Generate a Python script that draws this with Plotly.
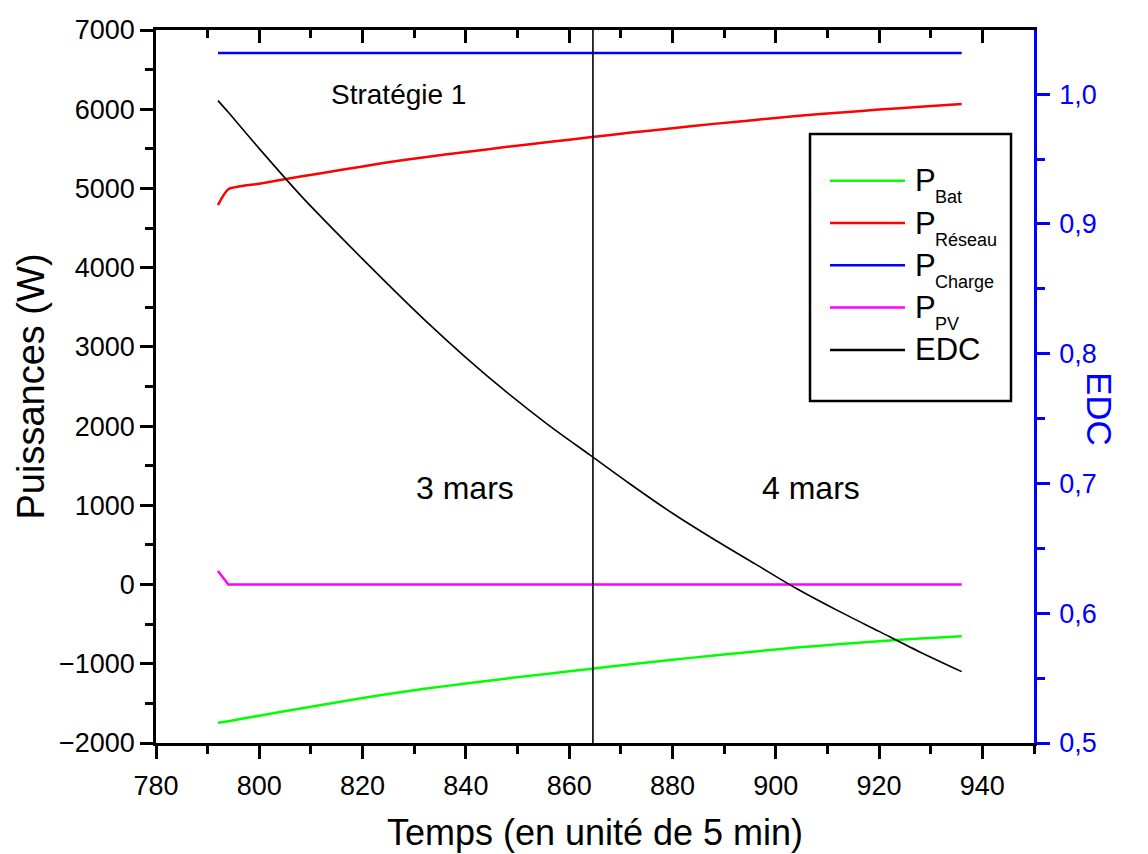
import plotly.graph_objects as go

# ---------------- data ----------------
temps = [792, 794, 800, 808, 816, 824, 832, 840, 848, 856,
         864, 872, 880, 888, 896, 904, 912, 920, 928, 936]
p_bat = [-1744, -1725, -1655, -1565, -1475, -1390, -1315, -1250, -1185, -1125,
         -1065, -1005, -950, -895, -845, -795, -755, -715, -680, -652]
p_reseau = [4790, 4990, 5060, 5150, 5235, 5320, 5395, 5460, 5525, 5585,
            5645, 5705, 5760, 5815, 5865, 5915, 5955, 5995, 6030, 6065]
p_charge = [6710, 6710, 6710, 6710, 6710, 6710, 6710, 6710, 6710, 6710,
            6710, 6710, 6710, 6710, 6710, 6710, 6710, 6710, 6710, 6710]
p_pv = [170, 0, 0, 0, 0, 0, 0, 0, 0, 0,
        0, 0, 0, 0, 0, 0, 0, 0, 0, 0]
edc = [0.995, 0.986, 0.958, 0.922, 0.889, 0.857, 0.826, 0.797, 0.770, 0.745,
       0.722, 0.699, 0.677, 0.657, 0.638, 0.619, 0.602, 0.586, 0.570, 0.555]
day_boundary = 864.6

legend_main = ["P", "P", "P", "P", "EDC"]
legend_sub = ["Bat", "Réseau", "Charge", "PV", ""]
colors = ["#00ff00", "#ff0000", "#0000ff", "#ff00ff", "#000000"]

FONT = "Arial, Liberation Sans, sans-serif"
W, H = 1148, 854
ML, MR, MT, MB = 156, 114, 30, 111
PW, PH = W - ML - MR, H - MT - MB


def px(xp):
    return (xp - ML) / PW


def py(yp):
    return (H - MB - yp) / PH


fig = go.Figure()

fig.add_trace(go.Scatter(x=temps, y=p_bat, mode="lines", name="P_Bat",
                         line=dict(color=colors[0], width=2.5, shape="spline", smoothing=0.6)))
fig.add_trace(go.Scatter(x=temps, y=p_reseau, mode="lines", name="P_Réseau",
                         line=dict(color=colors[1], width=2.5, shape="spline", smoothing=0.6)))
fig.add_trace(go.Scatter(x=temps, y=p_charge, mode="lines", name="P_Charge",
                         xaxis="x2", line=dict(color=colors[2], width=2.5)))
fig.add_trace(go.Scatter(x=temps, y=p_pv, mode="lines", name="P_PV",
                         line=dict(color=colors[3], width=2.5)))
fig.add_trace(go.Scatter(x=temps, y=edc, mode="lines", name="EDC", yaxis="y2",
                         line=dict(color=colors[4], width=1.6, shape="spline", smoothing=0.8)))

tickfont = dict(family=FONT, size=27, color="black")

fig.update_layout(
    width=W, height=H,
    margin=dict(l=ML, r=MR, t=MT, b=MB, autoexpand=False),
    paper_bgcolor="white", plot_bgcolor="white",
    showlegend=False,
    separators=", ",
    font=dict(family=FONT, color="black"),
    xaxis=dict(
        range=[780, 950], tick0=780, dtick=20, automargin=False,
        ticks="outside", ticklen=13, tickwidth=2.5, tickcolor="black",
        minor=dict(dtick=10, ticks="outside", ticklen=8, tickwidth=2.5, tickcolor="black"),
        showline=True, linewidth=2.5, linecolor="black",
        showgrid=False, zeroline=False,
        tickfont=tickfont, ticklabelstandoff=4,
        title=dict(text="Temps (en unité de 5 min)", font=dict(family=FONT, size=36), standoff=20),
    ),
    xaxis2=dict(
        overlaying="x", side="top", matches="x", automargin=False,
        range=[780, 950], tick0=780, dtick=20,
        ticks="inside", ticklen=13, tickwidth=2.5, tickcolor="black",
        minor=dict(dtick=10, ticks="inside", ticklen=8, tickwidth=2.5, tickcolor="black"),
        showline=True, linewidth=2.5, linecolor="black",
        showgrid=False, zeroline=False, showticklabels=False,
    ),
    yaxis=dict(
        range=[-2000, 7000], tick0=0, dtick=1000, automargin=False,
        ticks="outside", ticklen=13, tickwidth=2.5, tickcolor="black",
        minor=dict(dtick=500, ticks="outside", ticklen=8, tickwidth=2.5, tickcolor="black"),
        showline=True, linewidth=2.5, linecolor="black",
        showgrid=False, zeroline=False,
        tickfont=tickfont, ticklabelstandoff=0,
        title=dict(text="Puissances (W)", font=dict(family=FONT, size=38), standoff=3),
    ),
    yaxis2=dict(
        overlaying="y", side="right", automargin=False,
        range=[0.5, 1.0494], tick0=0.5, dtick=0.1, tickformat=".1f",
        ticks="outside", ticklen=13, tickwidth=2.5, tickcolor="#0000ff",
        minor=dict(dtick=0.05, ticks="outside", ticklen=8, tickwidth=2.5, tickcolor="#0000ff"),
        showline=True, linewidth=2.5, linecolor="#0000ff",
        showgrid=False, zeroline=False,
        tickfont=dict(family=FONT, size=27, color="#0000ff"), ticklabelstandoff=4,
    ),
)

annotations = [
    dict(x=px(1100), y=py(409), xref="paper", yref="paper", text="EDC",
         textangle=90, showarrow=False, font=dict(family=FONT, size=35, color="#0000ff"),
         xanchor="center", yanchor="middle"),
    dict(x=826.9, y=6192, xref="x", yref="y", text="Stratégie 1", showarrow=False,
         font=dict(family=FONT, size=28, color="black"), xanchor="center", yanchor="middle"),
    dict(x=839.8, y=1219, xref="x", yref="y", text="3 mars", showarrow=False,
         font=dict(family=FONT, size=32, color="black"), xanchor="center", yanchor="middle"),
    dict(x=906.9, y=1219, xref="x", yref="y", text="4 mars", showarrow=False,
         font=dict(family=FONT, size=32, color="black"), xanchor="center", yanchor="middle"),
]

shapes = [
    dict(type="line", xref="x", yref="paper", x0=day_boundary, x1=day_boundary,
         y0=0, y1=1, line=dict(color="black", width=1.6), layer="above"),
    dict(type="rect", xref="paper", yref="paper",
         x0=px(810), x1=px(1011), y0=py(401), y1=py(134),
         line=dict(color="black", width=2.5), fillcolor="white", layer="above"),
]

for i, (main, sub, col) in enumerate(zip(legend_main, legend_sub, colors)):
    ly = 180.7 + i * 42.3
    shapes.append(dict(type="line", xref="paper", yref="paper",
                       x0=px(830), x1=px(905), y0=py(ly), y1=py(ly),
                       line=dict(color=col, width=2.5), layer="above"))
    annotations.append(dict(x=px(913), y=py(ly), xref="paper", yref="paper",
                            text=main, showarrow=False, xanchor="left", yanchor="middle",
                            font=dict(family=FONT, size=31, color="black")))
    if sub:
        annotations.append(dict(x=px(933), y=py(ly + 16.5), xref="paper", yref="paper",
                                text=sub, showarrow=False, xanchor="left", yanchor="middle",
                                font=dict(family=FONT, size=18, color="black")))

fig.update_layout(annotations=annotations, shapes=shapes)

fig.write_html("out.html")
